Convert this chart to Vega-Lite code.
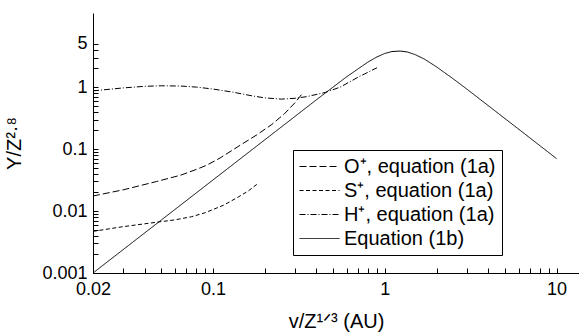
{
  "$schema": "https://vega.github.io/schema/vega-lite/v6.json",
  "width": 486,
  "height": 260,
  "autosize": "none",
  "padding": {"left": 93, "top": 13, "right": 0, "bottom": 62},
  "background": "white",
  "config": {
    "font": "Liberation Sans",
    "view": {"stroke": null},
    "axis": {
      "grid": false,
      "domainColor": "black",
      "domainWidth": 1,
      "tickColor": "black",
      "tickWidth": 1,
      "tickSize": -5,
      "labelColor": "black",
      "labelFontSize": 18,
      "labelFont": "Liberation Sans",
      "labelOverlap": false,
      "labelFlush": false,
      "labelBound": false,
      "titleColor": "black",
      "titleFont": "Liberation Sans",
      "titleFontSize": 20,
      "titleFontWeight": "normal"
    }
  },
  "data": {
    "values": [
      {"series": "O⁺, equation (1a)", "x": 0.02, "y": 0.0175},
      {"series": "O⁺, equation (1a)", "x": 0.03, "y": 0.022},
      {"series": "O⁺, equation (1a)", "x": 0.047, "y": 0.03},
      {"series": "O⁺, equation (1a)", "x": 0.065, "y": 0.038},
      {"series": "O⁺, equation (1a)", "x": 0.08, "y": 0.047},
      {"series": "O⁺, equation (1a)", "x": 0.092, "y": 0.055},
      {"series": "O⁺, equation (1a)", "x": 0.11, "y": 0.072},
      {"series": "O⁺, equation (1a)", "x": 0.14, "y": 0.11},
      {"series": "O⁺, equation (1a)", "x": 0.18, "y": 0.17},
      {"series": "O⁺, equation (1a)", "x": 0.22, "y": 0.25},
      {"series": "O⁺, equation (1a)", "x": 0.26, "y": 0.37},
      {"series": "O⁺, equation (1a)", "x": 0.3, "y": 0.56},
      {"series": "O⁺, equation (1a)", "x": 0.33, "y": 0.78},
      {"series": "S⁺, equation (1a)", "x": 0.02, "y": 0.0047},
      {"series": "S⁺, equation (1a)", "x": 0.03, "y": 0.0056},
      {"series": "S⁺, equation (1a)", "x": 0.047, "y": 0.0066},
      {"series": "S⁺, equation (1a)", "x": 0.06, "y": 0.0072},
      {"series": "S⁺, equation (1a)", "x": 0.075, "y": 0.0081},
      {"series": "S⁺, equation (1a)", "x": 0.09, "y": 0.0094},
      {"series": "S⁺, equation (1a)", "x": 0.115, "y": 0.0124},
      {"series": "S⁺, equation (1a)", "x": 0.14, "y": 0.0168},
      {"series": "S⁺, equation (1a)", "x": 0.16, "y": 0.021},
      {"series": "S⁺, equation (1a)", "x": 0.18, "y": 0.027},
      {"series": "H⁺, equation (1a)", "x": 0.02, "y": 0.87},
      {"series": "H⁺, equation (1a)", "x": 0.03, "y": 0.97},
      {"series": "H⁺, equation (1a)", "x": 0.04, "y": 1.03},
      {"series": "H⁺, equation (1a)", "x": 0.05, "y": 1.05},
      {"series": "H⁺, equation (1a)", "x": 0.065, "y": 1.04},
      {"series": "H⁺, equation (1a)", "x": 0.08, "y": 1.0},
      {"series": "H⁺, equation (1a)", "x": 0.1, "y": 0.93},
      {"series": "H⁺, equation (1a)", "x": 0.13, "y": 0.83},
      {"series": "H⁺, equation (1a)", "x": 0.17, "y": 0.72},
      {"series": "H⁺, equation (1a)", "x": 0.2, "y": 0.67},
      {"series": "H⁺, equation (1a)", "x": 0.25, "y": 0.64},
      {"series": "H⁺, equation (1a)", "x": 0.3, "y": 0.66},
      {"series": "H⁺, equation (1a)", "x": 0.35, "y": 0.7},
      {"series": "H⁺, equation (1a)", "x": 0.45, "y": 0.82},
      {"series": "H⁺, equation (1a)", "x": 0.55, "y": 1.0},
      {"series": "H⁺, equation (1a)", "x": 0.7, "y": 1.45},
      {"series": "H⁺, equation (1a)", "x": 0.9, "y": 2.05},
      {"series": "Equation (1b)", "x": 0.02, "y": 0.001},
      {"series": "Equation (1b)", "x": 0.05, "y": 0.00717},
      {"series": "Equation (1b)", "x": 0.1, "y": 0.0318},
      {"series": "Equation (1b)", "x": 0.2, "y": 0.141},
      {"series": "Equation (1b)", "x": 0.3, "y": 0.337},
      {"series": "Equation (1b)", "x": 0.4, "y": 0.626},
      {"series": "Equation (1b)", "x": 0.6, "y": 1.47},
      {"series": "Equation (1b)", "x": 0.8, "y": 2.55},
      {"series": "Equation (1b)", "x": 0.9, "y": 3.07},
      {"series": "Equation (1b)", "x": 1.0, "y": 3.49},
      {"series": "Equation (1b)", "x": 1.1, "y": 3.75},
      {"series": "Equation (1b)", "x": 1.23, "y": 3.82},
      {"series": "Equation (1b)", "x": 1.35, "y": 3.69},
      {"series": "Equation (1b)", "x": 1.5, "y": 3.35},
      {"series": "Equation (1b)", "x": 1.7, "y": 2.83},
      {"series": "Equation (1b)", "x": 2.0, "y": 2.12},
      {"series": "Equation (1b)", "x": 2.5, "y": 1.36},
      {"series": "Equation (1b)", "x": 3.0, "y": 0.93},
      {"series": "Equation (1b)", "x": 5.0, "y": 0.311},
      {"series": "Equation (1b)", "x": 7.18, "y": 0.143},
      {"series": "Equation (1b)", "x": 10, "y": 0.07}
    ]
  },
  "mark": {"type": "line", "color": "black", "strokeWidth": 1},
  "encoding": {
    "x": {
      "field": "x",
      "type": "quantitative",
      "scale": {"type": "log", "domain": [0.02, 13.5], "nice": false},
      "axis": {
        "title": "v/Z¹ᐟ³ (AU)",
        "titlePadding": 13,
        "labelPadding": 12,
        "values": [0.02, 0.03, 0.04, 0.05, 0.06, 0.07, 0.08, 0.09, 0.1, 0.2, 0.3, 0.4, 0.5, 0.6, 0.7, 0.8, 0.9, 1, 2, 3, 4, 5, 6, 7, 8, 9, 10],
        "labelExpr": "indexof([0.02, 0.1, 1, 10], datum.value) >= 0 ? format(datum.value, '~g') : ''"
      }
    },
    "y": {
      "field": "y",
      "type": "quantitative",
      "scale": {"type": "log", "domain": [0.001, 15.7], "nice": false},
      "axis": {
        "title": "Y/Z²·⁸",
        "titlePadding": 17,
        "labelPadding": 11,
        "values": [0.001, 0.002, 0.003, 0.004, 0.005, 0.006, 0.007, 0.008, 0.009, 0.01, 0.02, 0.03, 0.04, 0.05, 0.06, 0.07, 0.08, 0.09, 0.1, 0.2, 0.3, 0.4, 0.5, 0.6, 0.7, 0.8, 0.9, 1, 2, 3, 4, 5],
        "labelExpr": "indexof([0.001, 0.01, 0.1, 1, 5], datum.value) >= 0 ? format(datum.value, '~g') : ''"
      }
    },
    "strokeDash": {
      "field": "series",
      "type": "nominal",
      "scale": {
        "domain": ["O⁺, equation (1a)", "S⁺, equation (1a)", "H⁺, equation (1a)", "Equation (1b)"],
        "range": [[7, 3], [4, 2.5], [6, 2, 1, 2], [1, 0]]
      },
      "legend": {
        "title": null,
        "orient": "none",
        "legendX": 200,
        "legendY": 137,
        "direction": "vertical",
        "strokeColor": "black",
        "fillColor": "white",
        "padding": 6,
        "labelFontSize": 20,
        "labelFont": "Liberation Sans",
        "labelColor": "black",
        "symbolType": "M-2,0H2",
        "symbolSize": 400,
        "symbolStrokeWidth": 1,
        "symbolStrokeColor": "black",
        "symbolFillColor": "transparent",
        "symbolOffset": 10,
        "labelOffset": 14,
        "rowPadding": 3
      }
    }
  }
}
